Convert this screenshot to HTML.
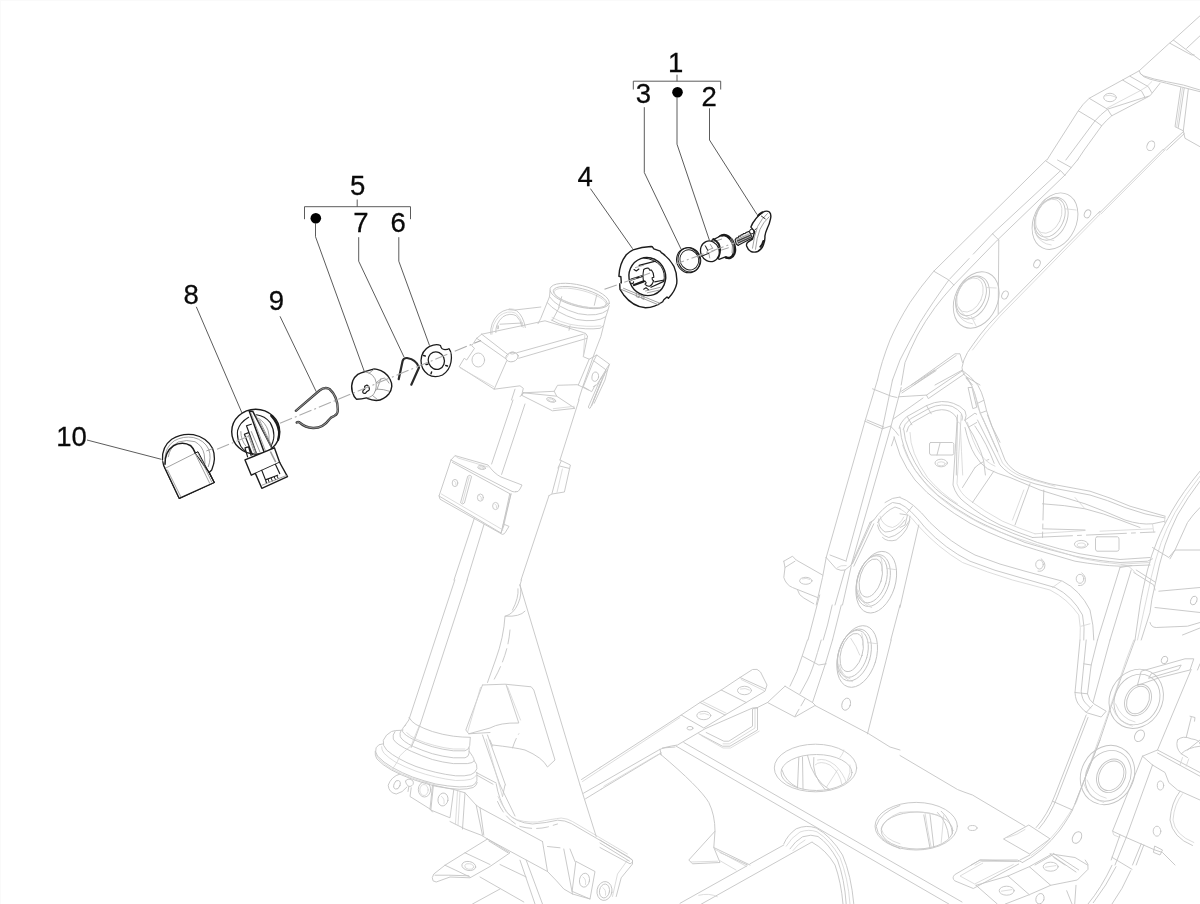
<!DOCTYPE html>
<html>
<head>
<meta charset="utf-8">
<title>Lock parts diagram</title>
<style>
html,body{margin:0;padding:0;background:#fff;}
body{width:1200px;height:904px;overflow:hidden;font-family:"Liberation Sans",sans-serif;}
svg{display:block;will-change:transform;}
.f{fill:none;stroke:#c4c4c4;stroke-width:0.9;stroke-linecap:round;stroke-linejoin:round;}
.f2{fill:none;stroke:#d4d4d4;stroke-width:0.8;stroke-linecap:round;stroke-linejoin:round;}
.d{fill:none;stroke:#1c1c1c;stroke-width:1.3;stroke-linecap:round;stroke-linejoin:round;}
.dw{fill:#fff;stroke:#1c1c1c;stroke-width:1.3;stroke-linecap:round;stroke-linejoin:round;}
.g{fill:none;stroke:#8a8a8a;stroke-width:0.8;stroke-linecap:round;stroke-linejoin:round;}
.l{fill:none;stroke:#4a4a4a;stroke-width:0.9;}
.ax{fill:none;stroke:#acacac;stroke-width:1.1;stroke-dasharray:13 3 2 3;}
text{font-family:"Liberation Sans",sans-serif;font-size:26px;fill:#0a0a0a;stroke:#0a0a0a;stroke-width:0.25;text-anchor:middle;}
</style>
</head>
<body>
<svg width="1200" height="904" viewBox="0 0 1200 904">
<rect x="0" y="0" width="1200" height="904" fill="#ffffff"/>

<path id="edge" d="M0,0.5 H1200 M0.5,0 V904" stroke="#fafafa" stroke-width="1" fill="none"/>
<!-- ================= FRAME (light grey) ================= -->
<g id="frame" class="f">
<!-- frame_01_head.py -->
<ellipse cx="579.7" cy="296.0" rx="30.5" ry="10.7" transform="rotate(14 579.7 296.0)"/>
<ellipse cx="580.2" cy="297.2" rx="27.7" ry="8.7" transform="rotate(14 580.2 297.2)"/>
<ellipse class="f2" cx="580.2" cy="298.0" rx="26.7" ry="7.7" transform="rotate(14 580.2 298.0)"/>
<path d="M561.7,296.7 L558.7,307.5 M596.7,295.0 L594.3,305.3"/>
<path d="M549.5,296.7 Q556.7,307.5 578.3,313.7 Q598.3,317.5 607.8,310.0"/>
<path d="M547.2,302.5 Q555.0,312.5 576.7,319.5 Q596.7,323.0 605.8,316.7"/>
<path d="M551.2,320.0 Q558.3,324.2 569.2,326.7 Q586.7,330.0 600.0,328.3 L603.3,325.8"/>
<path class="f2" d="M552.0,317.5 Q560.0,322.0 570.0,324.3 Q586.7,327.5 600.8,325.8"/>
<path d="M550.0,290.8 L549.5,296.7 L547.2,302.5 L540.8,318.3 L538.0,323.7"/>
<path d="M609.2,305.8 L607.8,310.8 L605.8,316.7 L603.3,326.7 L600.8,336.7 L595.0,351.7 L583.3,385.0 L578.5,400.0"/>
<path d="M559.2,307.5 L552.5,320.0 M570.0,325.8 L569.0,330.3"/>
<path d="M490.8,334.2 Q489.7,323.3 498.3,314.2 Q507.5,306.7 516.7,310.8 Q523.3,315.8 525.3,327.5"/>
<path class="f2" d="M492.0,334.2 Q491.7,324.2 499.7,315.8 Q507.5,310.0 515.3,313.0 Q521.3,317.5 523.3,327.5"/>
<path d="M495.8,332.5 Q495.3,323.3 503.0,316.7 Q510.0,312.5 516.3,315.8 Q520.8,320.0 522.0,326.7"/>
<path d="M515.0,310.0 L540.8,307.0 M500.0,324.2 L522.5,323.0 M497.2,325.8 L497.2,328.7 L498.5,328.7 L498.5,325.8"/>
<path class="f2" d="M509.2,308.7 L514.2,309.3 M508.7,309.7 L513.3,310.3"/>
<path d="M481.7,334.2 L545.0,320.8 L583.3,332.5 Q587.0,333.3 587.5,336.3"/>
<path d="M516.7,352.8 L583.3,334.2 M518.7,358.3 L587.0,338.3"/>
<path d="M481.7,334.2 L507.5,354.2 M476.7,338.3 L505.8,358.7 M481.7,334.2 L476.7,338.3"/>
<ellipse cx="512.0" cy="357.0" rx="6.3" ry="4.7" transform="rotate(-15 512.0 357.0)"/>
<ellipse cx="512.5" cy="353.0" rx="2.5" ry="1.0"/>
<path class="f2" d="M509.2,353.3 Q508.3,355.3 506.7,357.5 M515.3,352.8 Q517.0,354.2 518.3,356.7"/>
<path d="M476.7,338.3 L471.7,345.8 L474.5,348.3 L466.7,360.0 L464.2,358.3 L459.2,366.7 L494.2,389.2 L506.7,360.8"/>
<path class="f2" d="M460.3,368.0 L493.7,386.7"/>
<ellipse cx="478.3" cy="360.0" rx="6.3" ry="7.0"/>
<path d="M494.2,389.2 L520.0,385.8 L523.3,388.3 L521.7,395.3 L552.5,410.8 L575.0,408.3 L556.7,396.2"/>
<path d="M523.3,392.8 L554.2,391.3 L557.5,385.3 L577.5,384.7 L588.3,390.0"/>
<path d="M523.3,392.8 L520.0,396.7 M521.7,395.3 L523.3,392.8 M554.2,391.3 L556.7,396.2 L523.3,392.8"/>
<path class="f2" d="M553.3,408.7 L574.2,406.3"/>
<ellipse cx="551.2" cy="400.0" rx="4.7" ry="2.0" transform="rotate(15 551.2 400.0)"/>
<ellipse class="f2" cx="551.2" cy="400.3" rx="3.0" ry="1.2" transform="rotate(15 551.2 400.3)"/>
<path d="M587.5,336.3 L583.3,356.7 L589.2,359.2 L578.3,385.0"/>
<path class="f2" d="M585.0,333.0 L583.3,356.7"/>
<path d="M589.2,359.2 L596.7,355.0 L609.5,364.2 L607.5,370.0 L600.8,378.3"/>
<path d="M596.7,355.0 L593.7,360.8 L605.8,369.7 L609.5,364.2"/>
<path d="M593.7,360.8 L583.3,386.7 L591.7,391.7 L595.3,385.0"/>
<ellipse cx="595.3" cy="376.7" rx="3.3" ry="4.7" transform="rotate(10 595.3 376.7)"/>
<path d="M605.8,369.7 L604.2,375.3 L590.3,408.0 Q589.2,409.2 588.3,407.0 L600.0,380.0 L604.2,375.3"/>
<path d="M602.5,378.3 L591.7,405.8 M600.8,382.0 L593.3,400.8 M605.8,370.0 L596.7,385.0 L593.3,386.7"/>
<path d="M607.5,370.0 L605.0,380.0 L594.2,403.3"/>
<path d="M515.0,389.2 L511.5,400.0"/>
<!-- frame_02_column.py -->
<path d="M513.0,400.0 L491.6,464.0 M474.4,518.0 L454.0,580.0"/>
<path d="M525.0,404.0 L501.6,474.4 M484.0,524.4 L467.0,580.0"/>
<path d="M579.0,400.0 L560.0,460.0 M549.0,495.6 L521.0,580.0"/>
<path d="M451.0,460.0 L455.0,455.6 L488.0,465.0 Q491.0,469.0 494.0,472.0 Q498.0,475.6 501.0,477.0 L522.0,485.0 L520.0,489.0 Q518.4,492.4 515.6,492.0"/>
<path d="M451.0,460.0 L512.0,491.4 Q514.4,492.4 516.0,491.6 M452.4,462.4 L510.4,494.0"/>
<path class="f2" d="M455.0,455.6 L458.0,458.0 L488.0,467.0"/>
<ellipse cx="481.6" cy="467.6" rx="4.0" ry="1.8" transform="rotate(10 481.6 467.6)"/>
<ellipse class="f2" cx="481.6" cy="468.0" rx="2.4" ry="1.0" transform="rotate(10 481.6 468.0)"/>
<path d="M451.0,460.0 L439.0,496.0 L501.0,533.0 L511.0,494.0"/>
<path d="M439.0,496.0 L440.0,499.2 L502.4,534.4 Q504.4,534.4 505.6,532.0 L509.0,526.4 L504.4,524.4 L501.0,533.0"/>
<path class="f2" d="M441.4,494.0 L503.0,530.0"/>
<path d="M511.0,494.0 L504.0,524.4 M509.6,494.4 L502.4,528.0"/>
<ellipse cx="455.0" cy="483.0" rx="2.8" ry="3.6"/>
<ellipse cx="480.4" cy="497.6" rx="3.0" ry="3.6"/>
<ellipse cx="495.6" cy="506.0" rx="3.0" ry="3.6"/>
<path class="f2" d="M454.4,481.0 Q456.4,482.0 456.0,485.0 M479.8,495.6 Q482.0,496.8 481.4,499.6 M495.0,504.0 Q497.2,505.2 496.6,508.0"/>
<path d="M468.0,476.0 Q470.0,474.2 471.6,476.4 L464.4,503.0 Q462.8,505.2 460.8,503.0 Z"/>
<path class="f2" d="M469.2,477.0 L462.4,503.0"/>
<path d="M560.0,460.0 L570.4,465.0 L564.4,492.0 L552.0,494.0 L549.0,495.6"/>
<path d="M559.0,467.0 L552.0,493.4 M559.6,466.0 L569.2,468.4 M561.2,461.0 L558.0,468.0"/>
<path class="f2" d="M562.4,469.0 L557.0,492.4"/>
<!-- frame_03_colbot.py -->
<path d="M454.8,580.0 L408.8,720.0 L404.5,726.2"/>
<path d="M467.2,580.0 L420.0,725.0 L415.0,738.8 L411.2,747.5"/>
<path d="M521.5,580.0 L520.0,585.0"/>
<path d="M520.0,585.0 L580.0,785.0"/>
<path d="M520.0,585.0 Q522.5,593.8 518.0,603.8 Q513.8,613.8 505.5,616.2 M525.0,611.2 Q520.0,617.0 505.5,616.2 M518.0,588.8 Q519.0,597.5 512.5,610.0"/>
<path d="M505.0,616.2 Q503.8,637.5 495.5,660.0 L487.5,682.5"/>
<path style="stroke-dasharray:14 5" d="M510.0,630.0 Q508.0,655.0 493.8,680.0"/>
<path d="M482.5,685.0 L505.0,684.2 L531.2,686.8 L533.8,690.0 L555.0,760.0 L547.5,767.0 Q542.5,757.5 525.0,750.0 Q515.0,747.5 492.5,745.0"/>
<path d="M482.5,685.0 L465.8,730.0 L468.8,733.8 L490.0,728.0 Q500.0,722.5 518.8,723.0 L506.2,685.0"/>
<path class="f2" d="M480.5,687.5 L467.5,732.5 M508.0,688.0 L520.5,720.0 M506.2,685.0 L508.0,688.0"/>
<path d="M468.8,733.8 L490.0,732.5 M482.5,735.0 L500.0,785.0 M487.5,735.0 L505.5,785.0 M490.0,740.0 L492.5,746.2"/>
<path style="stroke-dasharray:10 5" d="M512.5,748.0 Q515.0,740.0 518.8,733.8"/>
<path d="M476.2,772.5 L496.2,783.0 M477.5,775.5 L493.0,784.2"/>
<!-- frame_04_botleft.py -->
<path d="M400.0,774.0 Q391.2,776.5 388.2,785.2 Q388.8,792.8 396.2,794.0 Q402.5,792.8 407.0,787.0"/>
<ellipse cx="397.0" cy="784.8" rx="3.0" ry="4.5" transform="rotate(20 397.0 784.8)"/>
<path d="M405.5,781.0 Q408.8,777.0 413.0,781.0 Q414.5,785.2 410.0,786.5 Q406.2,786.0 405.5,781.0 M408.8,786.5 L408.0,791.5"/>
<path d="M411.2,787.8 L410.0,796.5 L430.0,809.0 L432.5,812.0 M432.5,785.2 L430.0,809.0"/>
<ellipse cx="424.5" cy="789.5" rx="6.2" ry="7.5"/>
<ellipse class="f2" cx="424.0" cy="790.0" rx="4.2" ry="5.5"/>
<path d="M433.8,785.2 L453.8,789.5 L450.0,817.8 L431.2,810.2 Z"/>
<ellipse cx="443.0" cy="799.5" rx="5.0" ry="6.5" transform="rotate(10 443.0 799.5)"/>
<path class="f2" d="M441.5,796.5 Q445.0,798.5 444.0,803.5"/>
<path d="M453.8,789.5 L465.0,792.8 L476.2,805.2 L480.0,807.8 L542.5,841.5 M547.5,846.5 L560.0,847.8"/>
<path d="M450.0,821.5 L465.0,829.0 L481.2,835.2 L487.5,839.0 L547.5,871.5 Q557.5,881.5 563.8,889.0 L572.5,894.0 L590.0,899.0"/>
<path d="M476.2,805.2 L482.5,835.2 M465.0,792.8 L462.5,829.0 M542.5,841.5 L547.5,871.5 M563.8,849.0 L572.5,894.0 M570.0,849.0 L575.0,861.5 M480.0,807.8 L483.8,835.2"/>
<path class="f2" d="M457.5,791.0 L455.5,824.0 M460.0,792.0 L458.0,825.2"/>
<path d="M496.2,784.0 Q498.8,799.0 506.2,811.5 Q515.0,822.8 532.5,824.0 Q547.5,822.8 557.5,820.2 Q565.0,820.2 571.2,823.5 L630.0,857.8 Q633.8,860.2 632.5,864.0 L621.2,877.8 L616.2,896.5"/>
<path class="f2" d="M498.0,796.5 Q503.8,810.2 512.5,817.8 Q522.5,822.8 537.5,822.0 Q552.5,819.0 561.2,818.0 Q567.5,818.5 572.5,821.5 L627.5,854.0"/>
<path style="stroke-dasharray:12 5" d="M497.5,801.5 Q505.0,819.0 520.0,826.5 Q535.0,830.2 547.5,827.0 L557.5,824.0"/>
<path class="f2" d="M627.5,860.2 L617.5,874.0 L612.5,896.5"/>
<path d="M576.2,861.5 L595.0,871.5 L590.0,899.0 L572.5,891.5 Z"/>
<ellipse cx="584.5" cy="880.2" rx="5.0" ry="7.0" transform="rotate(10 584.5 880.2)"/>
<ellipse cx="604.5" cy="891.0" rx="5.0" ry="7.0" transform="rotate(10 604.5 891.0)"/>
<ellipse cx="604.5" cy="891.0" rx="7.5" ry="9.5" transform="rotate(10 604.5 891.0)"/>
<path class="f2" d="M583.0,877.0 Q586.5,879.0 585.5,884.5 M603.0,887.8 Q606.5,889.8 605.5,895.2"/>
<path d="M487.5,839.0 L465.0,852.8 L445.0,865.2 L433.8,874.0 Q431.2,877.8 433.0,880.8 L436.2,882.0 L450.0,877.0 L470.0,877.8 L490.0,866.5 L510.0,852.8 L487.5,839.0"/>
<path d="M465.0,852.8 L490.0,864.5 M445.0,865.2 L470.0,877.0 M488.8,841.0 L508.0,852.8 M435.0,875.2 L448.8,875.2 L468.8,875.8"/>
<ellipse cx="468.8" cy="866.0" rx="7.0" ry="4.5" transform="rotate(10 468.8 866.0)"/>
<ellipse class="f2" cx="469.2" cy="866.5" rx="4.5" ry="2.8" transform="rotate(10 469.2 866.5)"/>
<path d="M472.5,904.0 L500.0,889.0 M480.0,877.0 L523.8,902.0 M500.0,864.5 L526.2,877.0"/>
<path d="M520.0,860.2 L535.0,904.0 M526.2,860.2 L542.5,904.0"/>
<path d="M500.0,785.0 L515.0,816.0 M505.0,785.0 L502.5,796.5"/>
<path class="f2" d="M486.2,739.0 L502.5,796.5"/>
<path d="M580.0,785.0 L596.2,836.5"/>
<!-- frame_05_floor1.py -->
<path d="M600.0,767.5 L681.2,715.0 L700.0,702.5 L721.2,690.0 L740.0,677.5 L752.5,669.5 Q757.5,668.0 760.5,672.0 L767.0,685.0 L765.0,691.2 L746.2,702.5 L725.0,715.0 L703.8,728.0 L681.2,715.0"/>
<path d="M700.0,702.5 L725.0,715.0 M721.2,690.0 L746.2,702.5 M740.0,677.5 L765.0,688.8"/>
<path class="f2" d="M702.0,701.2 L726.2,713.2 M741.2,679.5 L763.8,690.5 M600.0,770.0 L680.0,717.5"/>
<ellipse cx="703.8" cy="715.5" rx="7.0" ry="4.2"/>
<ellipse cx="744.5" cy="690.5" rx="7.0" ry="4.2"/>
<ellipse cx="690.0" cy="728.2" rx="3.0" ry="1.8"/>
<path class="f2" d="M700.0,714.0 Q705.0,712.5 709.0,715.0 M740.5,689.0 Q745.5,687.5 749.5,690.0"/>
<path d="M600.0,783.8 L658.8,750.0 Q663.8,747.0 677.5,745.0 L705.0,728.8 L752.5,708.0 L757.5,707.5"/>
<path d="M601.2,789.2 L661.2,753.0 M660.0,749.2 L661.2,755.0 M662.5,748.0 L675.0,747.0"/>
<path class="f2" d="M603.8,786.2 L658.0,754.5"/>
<path d="M698.8,733.8 L722.5,746.2 L730.0,746.2 L757.5,730.0 L757.5,708.0 L752.5,708.8 L752.5,726.2 L728.8,741.2 L723.8,741.2 L706.2,732.5"/>
<path class="f2" d="M701.2,735.5 L723.0,748.0 L730.5,748.0 L759.2,731.2 M755.0,708.2 L755.0,728.0 L729.5,743.8 L723.0,743.8"/>
<path d="M676.2,746.2 L948.8,904.0 M683.8,742.5 L962.0,902.0"/>
<path d="M785.0,686.2 L767.5,702.5 L795.0,717.0 L815.0,705.5 L868.8,733.8 L890.0,747.0 L900.0,750.0"/>
<path d="M785.0,686.2 L812.5,702.5 L815.5,705.5"/>
<path style="stroke-dasharray:8 4" d="M795.0,716.2 L805.5,698.0"/>
<path d="M757.5,707.5 L767.5,702.5"/>
<ellipse cx="815.5" cy="768.0" rx="41.2" ry="23.8"/>
<ellipse cx="816.5" cy="772.5" rx="35.5" ry="18.0"/>
<path d="M782.0,770.0 Q785.0,781.2 797.5,787.5 M798.8,757.5 L797.5,788.0 M802.5,757.0 L803.0,789.0 M807.5,755.5 Q812.5,780.0 830.0,790.0 M813.8,757.5 Q811.2,775.0 825.0,789.5"/>
<path class="f2" d="M817.5,760.0 Q825.0,757.5 835.0,765.0 Q843.8,773.8 846.2,782.5 M815.0,765.0 Q820.0,760.0 830.0,765.0 Q840.0,772.5 842.0,785.0 M837.5,770.0 L826.2,787.5 M840.0,757.5 Q843.8,752.5 843.8,750.0 M850.0,765.0 Q851.2,772.5 847.5,780.0"/>
<path d="M900.0,805.5 Q880.0,812.5 876.2,826.2 Q877.5,840.0 900.0,848.8"/>
<path class="f2" d="M900.0,812.5 Q883.8,818.8 881.2,828.8 Q883.8,838.8 900.0,843.8"/>
<path d="M790.0,686.2 Q797.5,672.5 802.5,655.0 L807.5,640.0 M821.2,640.0 L817.5,652.5 Q812.5,670.0 807.5,680.0 L800.0,693.8 M832.5,640.0 L825.0,665.0 L812.5,702.5"/>
<path d="M802.5,656.2 L818.8,665.0 L826.2,663.8"/>
<ellipse cx="846.2" cy="704.2" rx="4.2" ry="6.2" transform="rotate(18 846.2 704.2)"/>
<path d="M891.2,640.0 L867.5,733.8"/>
<path d="M660.0,753.8 Q700.0,787.5 708.8,802.5 Q715.0,815.0 715.0,831.2 L713.8,847.5 L720.0,862.5 L692.5,863.8 L688.8,860.0 L715.0,831.2"/>
<path class="f2" d="M691.2,862.0 L717.5,861.2"/>
<path d="M720.0,852.5 L747.5,865.0 M750.0,863.8 L783.8,845.0 M713.8,847.5 L750.0,865.0"/>
<path d="M600.0,840.0 L632.5,860.0 Q633.8,862.5 630.0,863.8 L600.0,847.5 M600.0,843.0 L629.5,861.2"/>
<path d="M581.5,779.5 L600.0,767.5 M583.5,793.2 L600.0,783.8 M585.5,798.8 L601.2,789.2"/>
<path class="f2" d="M582.5,781.5 L600.0,770.0"/>
<!-- frame_06_floor2.py -->
<path d="M900.0,755.5 L957.5,789.5 Q965.0,792.5 972.5,795.0 L1025.0,826.2"/>
<ellipse cx="916.2" cy="826.2" rx="41.2" ry="23.8"/>
<ellipse cx="917.0" cy="830.5" rx="35.8" ry="18.5"/>
<path d="M923.8,815.0 L930.0,848.0 M930.0,814.5 L933.8,847.0 M941.2,811.2 Q951.2,820.0 952.5,833.8 M937.5,812.5 Q947.5,822.5 948.8,837.5"/>
<path class="f2" d="M925.0,813.0 Q927.5,830.0 931.2,847.5 M943.8,815.0 L941.2,842.5 M900.0,812.5 Q920.0,810.0 937.5,815.0"/>
<ellipse cx="972.5" cy="828.0" rx="4.5" ry="2.5"/>
<path d="M1003.8,838.8 L1028.8,825.0 L1050.0,838.8 L1030.0,853.8 Z"/>
<path class="f2" d="M1007.5,837.5 Q1017.5,835.0 1025.0,829.5"/>
<path d="M971.2,865.0 L980.0,860.0 L1017.5,860.0 L1022.5,862.5 M1020.0,860.0 L1030.0,855.0 M1050.0,853.8 L1075.0,857.5 L1087.5,865.0 M1035.0,865.0 L1052.5,855.0 M1053.8,857.5 L1065.0,865.0"/>
<path class="f2" d="M975.0,865.0 L981.2,861.5 L1016.2,861.5"/>
<path d="M1036.2,827.5 Q1047.5,815.0 1055.0,795.0 L1086.2,715.0"/>
<path d="M1038.8,828.8 Q1050.0,816.2 1057.5,796.2 L1088.0,717.5"/>
<path d="M1022.5,862.5 Q1042.5,852.5 1060.0,830.0 Q1068.8,817.5 1072.5,810.0 L1100.0,740.0 L1117.5,687.5 L1135.0,640.0"/>
<path class="f2" d="M1031.2,855.5 Q1050.0,842.5 1065.0,820.0 Q1072.5,808.8 1076.2,802.5 L1107.5,715.0 L1126.2,660.0 L1133.8,640.0"/>
<path d="M1052.5,801.2 L1072.5,810.0 M1075.0,803.8 L1100.0,740.0"/>
<path d="M1080.0,640.0 L1075.0,692.5 Q1075.5,701.2 1079.5,705.5 Q1083.8,711.2 1087.5,713.0 L1101.2,717.0 L1106.2,711.2 L1093.8,703.8 Q1088.8,700.0 1087.5,693.8 L1091.2,665.0 L1097.5,640.0"/>
<path d="M1086.2,640.0 L1081.2,691.2 Q1082.0,699.5 1085.5,703.0 L1090.5,708.0 M1110.0,640.0 L1093.0,702.5 M1075.0,692.5 L1087.5,693.8 M1083.8,663.8 L1091.2,665.0 M1086.2,712.5 L1092.5,705.5"/>
<ellipse cx="1136.2" cy="698.8" rx="26.2" ry="30.5" transform="rotate(28 1136.2 698.8)"/>
<ellipse cx="1137.0" cy="699.5" rx="22.0" ry="26.2" transform="rotate(28 1137.0 699.5)"/>
<ellipse cx="1138.0" cy="700.0" rx="12.5" ry="16.5" transform="rotate(28 1138.0 700.0)"/>
<ellipse cx="1138.0" cy="700.0" rx="10.5" ry="14.5" transform="rotate(28 1138.0 700.0)"/>
<path class="f2" d="M1112.5,707.5 Q1117.5,722.5 1132.5,726.2 M1115.5,703.8 Q1121.2,718.8 1135.0,722.0"/>
<ellipse cx="1107.5" cy="775.0" rx="26.2" ry="30.5" transform="rotate(28 1107.5 775.0)"/>
<ellipse cx="1108.2" cy="775.8" rx="22.0" ry="26.2" transform="rotate(28 1108.2 775.8)"/>
<ellipse cx="1111.2" cy="775.8" rx="13.8" ry="17.5" transform="rotate(28 1111.2 775.8)"/>
<ellipse cx="1111.2" cy="775.8" rx="11.8" ry="15.5" transform="rotate(28 1111.2 775.8)"/>
<path class="f2" d="M1083.8,783.8 Q1088.8,798.8 1103.8,802.5 M1087.0,780.0 Q1092.5,795.0 1106.2,798.2"/>
<ellipse cx="1139.5" cy="735.8" rx="4.5" ry="6.2" transform="rotate(30 1139.5 735.8)"/>
<ellipse cx="1077.0" cy="837.5" rx="4.2" ry="6.2" transform="rotate(30 1077.0 837.5)"/>
<ellipse cx="1160.5" cy="785.5" rx="3.2" ry="4.5"/>
<ellipse cx="1157.0" cy="831.2" rx="3.8" ry="5.0"/>
<path d="M1137.5,685.0 L1141.2,671.2 L1185.0,658.8 L1193.8,658.8 L1190.0,670.0 L1160.0,677.5 Z"/>
<path d="M1148.8,678.0 L1151.2,673.8 L1181.2,665.0 L1178.8,669.2 Z"/>
<ellipse cx="1164.5" cy="660.0" rx="3.0" ry="3.8" transform="rotate(20 1164.5 660.0)"/>
<path d="M1191.2,669.5 L1157.5,750.0 M1200.0,663.8 L1197.5,670.0"/>
<path d="M1142.5,756.2 L1157.5,750.0 L1200.0,772.5 M1157.5,753.0 L1200.0,776.2"/>
<path d="M1152.5,765.0 L1165.0,772.5 L1168.8,782.5 L1177.5,790.0 L1200.0,800.0 M1142.5,756.2 L1152.5,765.0"/>
<path d="M1152.5,765.0 L1126.2,837.5 L1112.5,831.2 L1142.5,756.2"/>
<path d="M1126.2,837.5 L1155.0,850.0 L1162.5,852.5 L1175.0,865.0 M1155.0,846.2 L1162.5,850.0 L1160.0,855.0 L1153.8,852.5 Z"/>
<path d="M1180.0,791.2 Q1171.2,802.5 1170.0,820.0 Q1172.5,837.5 1192.5,845.5"/>
<path class="f2" d="M1182.5,793.8 Q1174.2,803.8 1173.0,820.0 Q1175.0,835.0 1193.8,842.5"/>
<path d="M1126.2,837.5 L1115.0,865.0 M1120.0,835.0 L1111.2,860.0 M1143.8,845.0 L1136.2,865.0 M1141.2,843.8 L1132.5,865.0"/>
<path class="f2" d="M1112.5,831.2 L1113.8,835.0 L1120.0,837.5"/>
<path d="M1191.2,717.5 L1186.2,737.5 M1190.0,716.2 L1195.0,717.5 L1194.5,721.2"/>
<path d="M1177.5,740.0 Q1182.5,735.0 1191.2,738.8 Q1200.0,740.0 1200.0,743.8 M1177.5,740.0 Q1175.0,747.5 1181.2,753.8 L1187.5,757.5 M1181.2,753.8 Q1187.5,747.5 1200.0,746.2 M1187.5,750.0 L1200.0,740.0"/>
<path class="f2" d="M1182.5,757.5 L1180.0,765.0 M1188.8,758.8 L1186.2,766.2"/>
<!-- frame_07_saddle.py -->
<path d="M900.0,497.5 Q912.5,501.2 930.0,522.5 Q950.0,542.5 975.0,555.0 Q1000.0,565.0 1025.0,571.2 L1062.5,581.2 Q1080.0,590.0 1090.0,610.0 Q1093.8,625.0 1093.8,640.0"/>
<path d="M900.0,503.8 Q910.0,508.0 925.0,527.5 Q945.0,548.8 970.0,561.2 Q995.0,571.2 1020.0,577.5 L1055.0,587.5 Q1072.5,596.2 1082.5,615.0 Q1085.0,627.5 1083.8,640.0"/>
<path class="f2" d="M900.0,508.8 Q908.8,513.8 917.5,525.0 Q937.5,547.5 962.5,562.5 Q987.5,572.5 1012.5,580.0 L1050.0,590.0 Q1067.5,598.8 1078.8,615.0 Q1081.2,627.5 1080.0,640.0"/>
<path class="f2" d="M1052.5,587.5 L1061.2,581.2 M1081.2,626.2 L1090.0,623.8"/>
<path d="M900.0,427.5 Q901.2,447.5 915.0,470.0 Q925.0,483.8 937.5,495.0 Q955.0,508.8 975.0,520.0 Q1000.0,532.5 1025.0,542.5 Q1050.0,550.0 1075.0,556.2 Q1100.0,561.2 1120.0,562.5 L1147.5,561.2 L1152.5,558.8"/>
<path d="M903.8,430.0 Q905.0,448.8 922.5,475.0 Q935.0,490.0 950.0,500.0 Q967.5,512.5 987.5,522.5 Q1012.5,533.8 1037.5,542.5 Q1060.0,549.5 1080.0,553.8 Q1100.0,557.5 1120.0,559.5 L1150.0,557.5"/>
<path class="f2" d="M910.0,432.5 Q910.0,452.5 927.5,477.5 Q940.0,492.5 957.5,503.8"/>
<path d="M957.5,415.0 L953.0,485.0 Q956.2,496.2 965.0,502.5 Q980.0,515.0 1000.0,525.0 Q1017.5,532.5 1032.5,537.5"/>
<path class="f2" d="M961.2,415.0 L957.0,483.8 Q960.0,493.0 968.8,499.5 Q983.8,511.2 1002.5,521.2 Q1020.0,528.8 1035.0,533.8"/>
<path style="stroke-dasharray:40 5 4 5" d="M1032.5,537.5 L1155.0,532.0"/>
<path class="f2" d="M1035.0,533.8 L1085.0,530.5 M1100.0,531.2 L1152.5,528.8"/>
<path d="M977.5,420.0 L1000.0,465.0 Q1007.5,473.8 1020.0,478.8 Q1035.0,484.5 1050.0,487.5 L1090.0,495.0 Q1107.5,500.0 1125.0,507.5 Q1145.0,515.0 1165.0,518.0"/>
<path d="M987.5,415.0 L1005.0,460.0 Q1010.0,468.8 1020.0,473.8 Q1035.0,480.5 1050.0,483.8 L1090.0,491.2 Q1110.0,497.5 1130.0,506.2 L1165.0,516.2"/>
<path class="f2" d="M982.5,417.5 L1002.5,463.0 Q1010.0,472.0 1022.5,477.0 L1055.0,486.2"/>
<path d="M965.0,427.5 Q968.8,445.0 975.0,455.0 Q980.0,463.8 987.5,468.8 Q997.5,473.8 1010.0,477.5 Q1025.0,483.8 1040.0,490.0 L1085.0,503.8 Q1105.0,511.2 1125.0,520.0 Q1140.0,525.0 1152.5,523.8 L1165.0,521.2"/>
<path class="f2" d="M967.5,422.5 Q972.5,442.5 980.0,453.8 Q986.2,462.5 995.0,466.2"/>
<path class="f2" d="M1152.5,523.8 L1153.8,532.5 M1165.0,516.2 L1164.5,522.5"/>
<path d="M975.0,467.5 L962.5,487.5 M993.8,471.2 L972.5,502.5 M1030.0,483.8 L1015.0,525.0 M1042.5,503.8 Q1065.0,505.0 1085.0,508.8 Q1105.0,513.8 1120.0,520.0 L1140.0,527.5 M1042.5,528.8 L1085.0,530.0"/>
<path style="stroke-dasharray:30 4 4 4" d="M1043.8,490.0 L1042.5,537.5"/>
<path style="stroke-dasharray:10 4" d="M975.0,467.5 Q980.0,462.5 988.8,459.5"/>
<path class="f2" d="M1023.8,490.0 L1012.5,520.0 M1075.0,497.5 L1085.0,508.8"/>
<path d="M930.5,442.5 L952.5,442.5 Q953.8,443.0 953.8,444.5 L953.8,453.8 Q953.5,455.0 952.0,455.0 L931.0,455.0 Q929.5,454.5 929.5,453.0 L929.5,444.0 Q929.5,442.8 930.5,442.5 M940.0,443.2 L937.0,455.0"/>
<ellipse cx="941.2" cy="463.0" rx="6.2" ry="3.8"/>
<ellipse class="f2" cx="941.2" cy="463.8" rx="4.0" ry="2.0"/>
<ellipse cx="1081.2" cy="544.2" rx="6.8" ry="3.8"/>
<ellipse class="f2" cx="1081.2" cy="545.0" rx="4.2" ry="2.0"/>
<path d="M1097.0,536.8 L1117.5,536.8 Q1119.0,537.2 1119.0,539.0 L1119.0,549.5 Q1118.8,551.2 1117.0,551.2 L1097.0,551.2 Q1095.5,550.8 1095.5,549.0 L1095.5,538.5 Q1095.8,537.0 1097.0,536.8"/>
<ellipse cx="1039.5" cy="564.5" rx="3.8" ry="4.5"/>
<path d="M1041.2,558.8 Q1046.2,562.5 1044.5,568.0 Q1042.5,572.0 1038.0,571.2"/>
<ellipse cx="1080.0" cy="578.8" rx="3.8" ry="4.5"/>
<path d="M1081.8,573.0 Q1086.8,576.8 1085.0,582.2 Q1083.0,586.2 1078.5,585.5"/>
<path d="M1200.0,471.2 Q1182.5,492.5 1172.5,510.0 Q1162.5,527.5 1157.5,540.0 Q1151.2,555.0 1147.5,570.0 Q1142.5,590.0 1140.0,605.0 L1135.0,640.0"/>
<path d="M1200.0,481.2 Q1187.5,497.5 1177.5,515.0 Q1170.0,530.0 1165.0,545.0 Q1158.8,565.0 1155.0,585.0 Q1151.2,600.0 1150.0,612.5 L1141.2,640.0"/>
<path class="f2" d="M1200.0,476.2 Q1185.0,495.0 1175.0,512.5 Q1166.2,528.8 1161.2,542.5 Q1155.0,560.0 1151.2,577.5 L1137.5,640.0"/>
<path d="M1200.0,507.5 Q1192.5,515.0 1187.5,522.5 L1175.0,550.0 L1170.0,558.8"/>
<path d="M1152.5,547.5 L1168.8,557.5 L1175.0,550.0 L1200.0,550.0 M1158.8,591.2 L1200.0,587.5 M1155.0,607.5 L1200.0,612.5 M1150.0,622.5 Q1151.2,627.5 1156.2,627.5 L1187.5,626.2 L1200.0,622.5 M1182.5,635.0 L1200.0,628.0"/>
<ellipse cx="1193.8" cy="600.5" rx="3.0" ry="4.5" transform="rotate(20 1193.8 600.5)"/>
<path d="M1133.8,572.5 L1153.8,585.0 L1155.0,590.0 M1136.2,570.0 L1155.0,582.0"/>
<path d="M918.8,525.0 L905.0,585.0 L900.0,607.5 M900.0,513.8 L907.5,515.0 L905.0,525.0 L900.0,527.5"/>
<path d="M1120.0,567.5 L1097.5,640.0 M1131.2,570.0 L1110.0,640.0"/>
<path style="stroke-dasharray:12 4 3 4" d="M1120.0,567.5 L1135.0,565.0"/>
<path class="f2" d="M1121.2,564.5 Q1130.0,565.0 1135.0,572.5"/>
<path d="M894.0,436.8 L900.0,455.0 Q906.2,468.8 915.0,480.0 Q926.2,493.0 940.0,503.2 Q953.8,513.8 970.0,523.2 Q987.5,532.5 1006.8,540.0 Q1022.5,545.8 1036.8,550.0 L1075.0,561.2 Q1100.0,565.5 1120.0,566.2 L1150.0,565.0"/>
<path class="f2" d="M902.5,445.0 Q906.2,456.2 911.8,465.0 Q918.8,476.2 928.2,486.8 Q938.8,497.5 951.8,506.8 Q966.2,516.2 983.2,525.0 Q1000.0,532.5 1016.8,538.2 L1048.2,548.2 L1080.0,558.0 Q1100.0,562.5 1120.0,564.2 L1150.0,562.5"/>
<!-- frame_08_sideL.py -->
<path d="M877.5,380.0 L865.0,421.2 L826.2,557.5 M892.5,380.0 L882.5,428.0 L846.2,560.5 M901.2,387.5 L890.0,430.0 L851.2,565.0"/>
<path d="M865.0,421.2 L882.5,428.8 L890.0,426.2 M872.5,388.8 L891.2,396.2 L897.0,397.5 M867.0,420.0 L883.8,427.0"/>
<path d="M826.2,557.5 L836.2,568.8 Q841.2,571.2 845.0,570.0 L851.2,565.0 M830.0,555.0 L846.2,561.2 M826.2,557.5 L822.5,577.5 L816.2,605.0 M845.0,570.0 L835.0,605.0 M851.2,566.2 L842.5,605.0"/>
<path class="f2" d="M837.5,567.5 Q840.5,565.0 846.2,565.5"/>
<path d="M885.0,502.5 Q892.5,497.0 900.0,497.0 M873.8,520.0 Q882.5,507.5 892.5,502.5 L900.0,503.8 M877.5,522.5 Q885.0,511.2 895.0,507.0 L900.0,508.8 M912.5,506.2 L907.5,512.5"/>
<path d="M870.0,522.5 L873.8,520.0 M870.0,522.5 L851.2,565.0 M873.8,523.8 L853.8,566.2 M872.0,521.2 L852.5,563.8"/>
<path d="M878.8,518.8 Q877.5,527.5 885.0,532.0 Q896.2,532.5 905.0,520.0 M877.5,525.0 Q879.5,535.0 888.8,537.5 Q901.2,535.0 910.0,520.0 M910.0,516.2 Q910.0,530.0 896.2,540.0 Q887.5,542.5 882.5,537.5"/>
<path class="f2" d="M880.0,516.2 Q882.5,526.2 892.5,527.5 Q900.0,525.0 903.8,517.0"/>
<path d="M783.8,561.2 L792.5,556.2 L796.2,560.0 L822.5,575.0 M783.8,561.2 L785.0,567.5 L783.8,577.5 Q786.2,585.0 792.5,587.5 L817.5,597.5 M785.0,567.5 L795.0,561.2 M797.5,590.0 Q798.8,595.5 803.8,598.0 L813.8,603.8"/>
<ellipse cx="805.8" cy="580.8" rx="6.2" ry="3.5"/>
<path class="f2" d="M802.5,578.8 Q806.2,577.5 810.0,579.5"/>
<!-- frame_09_sideL2.py -->
<path d="M1046.2,160.0 L933.8,271.2 Q920.0,287.5 910.0,302.5 Q897.5,322.5 890.0,340.0 Q881.2,362.5 877.5,380.0"/>
<path d="M1060.0,171.2 L992.5,233.8 M948.8,280.0 Q932.5,302.5 920.0,322.5 Q907.5,345.0 900.0,360.0 L892.5,380.0"/>
<path style="stroke-dasharray:28 6" d="M992.5,233.8 L948.8,280.0"/>
<path d="M1065.0,175.0 L997.5,240.0 L953.8,285.0 Q942.5,297.5 935.0,307.5 Q925.0,321.2 917.5,335.0 Q910.0,350.0 905.0,362.5 L901.2,385.0"/>
<path d="M933.8,271.2 L948.8,280.0 L953.8,285.0 M992.5,233.8 L998.8,240.0 M1046.2,161.2 L1061.2,171.2 L1065.0,175.5"/>
<path d="M998.8,240.0 L998.2,313.8"/>
<path d="M1100.0,211.2 L998.8,313.8 Q987.5,325.0 980.0,335.0 Q972.5,345.0 967.5,352.5 Q963.0,360.0 962.0,367.5 Q962.5,375.0 967.5,377.5 L980.0,385.0"/>
<path class="f2" d="M1100.0,214.2 L1000.0,316.2 Q985.0,332.5 972.5,350.0"/>
<ellipse cx="1055.0" cy="221.2" rx="21.2" ry="29.5" transform="rotate(25 1055.0 221.2)"/>
<ellipse cx="1051.2" cy="218.8" rx="15.5" ry="22.5" transform="rotate(25 1051.2 218.8)"/>
<ellipse cx="1050.0" cy="217.5" rx="13.8" ry="20.5" transform="rotate(25 1050.0 217.5)"/>
<ellipse class="f2" cx="1048.8" cy="216.2" rx="12.0" ry="18.0" transform="rotate(25 1048.8 216.2)"/>
<path class="f2" d="M1035.0,232.5 Q1040.0,243.8 1051.2,245.0 M1037.5,228.8 Q1043.0,240.0 1053.8,240.5 M1065.0,208.8 L1076.2,210.0"/>
<ellipse cx="976.2" cy="300.0" rx="21.2" ry="29.5" transform="rotate(25 976.2 300.0)"/>
<ellipse cx="972.5" cy="297.5" rx="15.5" ry="22.5" transform="rotate(25 972.5 297.5)"/>
<ellipse cx="971.2" cy="296.2" rx="13.8" ry="20.5" transform="rotate(25 971.2 296.2)"/>
<ellipse class="f2" cx="970.0" cy="295.0" rx="12.0" ry="18.0" transform="rotate(25 970.0 295.0)"/>
<path class="f2" d="M956.2,311.2 Q961.2,322.5 972.5,323.8 M958.8,307.5 Q964.2,318.8 975.0,319.2 M986.2,287.5 L996.2,288.0 M971.2,316.2 L976.2,326.2"/>
<ellipse cx="1087.5" cy="213.8" rx="3.0" ry="4.2" transform="rotate(25 1087.5 213.8)"/>
<ellipse cx="1037.0" cy="263.8" rx="3.0" ry="4.2" transform="rotate(25 1037.0 263.8)"/>
<ellipse cx="1005.0" cy="295.0" rx="3.0" ry="4.2" transform="rotate(25 1005.0 295.0)"/>
<path d="M911.2,385.0 L955.0,353.8 L960.0,353.8 L962.5,362.5 M935.0,385.0 L962.5,370.0 M966.2,377.5 L972.5,385.0 M913.8,385.0 L956.2,355.5"/>
<path d="M1057.5,160.0 L1071.2,167.5 M1077.5,160.0 L1065.0,175.0"/>
<!-- frame_10_topR.py -->
<path d="M1200.0,15.8 L1173.3,40.0 L1168.3,44.2 L1139.2,70.8 L1122.5,80.0 L1089.2,98.3 Q1082.5,104.2 1078.3,110.8 L1053.3,150.0 L1047.0,160.0"/>
<path d="M1173.3,40.0 L1193.3,55.0 L1200.0,60.0 M1170.0,43.3 L1188.3,53.3 Q1191.7,55.8 1194.2,55.0 M1200.0,35.8 L1186.7,48.3"/>
<path d="M1139.2,70.8 Q1139.7,74.2 1143.3,75.8 Q1153.3,79.2 1166.7,81.7 L1183.3,85.0 L1200.0,90.0 M1140.0,73.3 Q1143.3,77.5 1150.0,79.2 L1166.7,83.3 L1200.0,91.7"/>
<path d="M1160.0,83.3 L1150.0,95.8 L1141.7,98.3 L1107.5,109.2 Q1100.0,115.0 1095.0,120.8 L1073.3,150.0 L1065.8,160.0"/>
<path class="f2" d="M1151.7,81.7 L1146.7,86.7 L1140.0,90.8 L1106.7,108.3"/>
<path d="M1148.3,96.7 L1111.7,115.8 Q1105.8,120.8 1101.7,125.8 L1084.2,150.0 L1077.5,160.0"/>
<path d="M1089.2,98.3 L1107.5,109.2 L1111.7,115.8 M1078.3,110.8 L1095.0,120.8 L1101.7,125.8 M1122.5,80.0 L1141.7,91.3 L1145.0,97.5 M1130.0,76.3 L1148.3,86.7 L1151.7,92.5"/>
<ellipse cx="1110.0" cy="97.5" rx="6.3" ry="4.2"/>
<path class="f2" d="M1105.0,95.8 Q1110.0,94.2 1115.0,96.7"/>
<path d="M1180.8,87.5 L1175.0,126.7 L1183.3,130.8 M1184.2,88.3 L1178.3,127.5 M1188.3,89.2 L1183.3,130.8 L1185.0,138.3 L1200.0,146.7"/>
<path class="f2" d="M1182.5,88.0 L1176.7,127.0"/>
<path d="M1163.3,150.0 L1183.3,131.7 M1166.7,150.0 L1184.2,133.7"/>
<ellipse cx="1150.8" cy="145.8" rx="3.7" ry="5.0" transform="rotate(25 1150.8 145.8)"/>
<!-- frame_11_edgeR.py -->
<path d="M1163.3,149.2 L1099.2,213.3"/>
<path class="f2" d="M1165.3,149.7 L1101.2,213.8"/>
<!-- frame_12_bottom.py -->
<path d="M746.7,866.0 L680.0,903.3 M812.0,842.0 L701.3,904.1"/>
<path class="f2" d="M720.0,860.7 L736.0,870.0 M714.7,849.2 L746.7,866.5"/>
<path class="f2" d="M698.7,895.3 Q709.3,892.7 717.3,896.7"/>
<!-- frame_13_bottomR.py -->
<path d="M1018.7,861.3 L980.0,860.0 L954.7,874.7 Q951.5,877.9 954.7,880.8 L973.3,888.5 L1018.7,864.0"/>
<path class="f2" d="M982.7,863.2 L960.0,876.0 L974.7,884.0 L1013.3,864.5"/>
<path d="M976.0,885.3 L1008.0,876.0 L1029.3,866.7 L1050.7,854.7 M1085.3,860.0 Q1089.3,864.0 1088.0,869.3 L1077.3,880.0 L1050.7,885.3 L1029.3,894.7 L1005.3,904.0 M976.0,885.3 L997.3,904.0"/>
<path d="M1008.0,876.0 L1029.3,894.7 M1029.3,866.7 L1050.7,885.3 M1050.7,854.7 L1076.0,872.0 M1053.3,853.3 L1078.7,869.9"/>
<ellipse cx="1050.7" cy="866.7" rx="7.5" ry="4.5"/>
<ellipse cx="1006.7" cy="890.7" rx="7.5" ry="4.5"/>
<ellipse cx="1040.0" cy="898.7" rx="4.0" ry="5.3" transform="rotate(20 1040.0 898.7)"/>
<path class="f2" d="M1045.3,867.2 L1056.0,865.6 M1001.3,891.2 L1012.0,889.6"/>
<path d="M1066.7,890.7 L1072.0,904.0 M1076.0,885.3 L1074.7,904.0"/>
<path d="M1112.0,865.3 Q1101.3,888.0 1088.0,904.0 M1130.7,870.7 Q1122.7,889.3 1112.0,904.0 M1112.0,857.3 L1132.0,869.3 M1116.0,866.7 Q1106.7,885.3 1093.3,902.7"/>
<!-- frame_14_riserL.py -->
<path d="M819.7,595.0 L808.0,640.0 M832.2,605.0 L827.5,625.0 L823.2,640.0 M841.3,605.0 L832.5,640.0 M900.0,605.0 L890.8,640.0"/>
<ellipse cx="876.3" cy="582.2" rx="19.0" ry="31.7" transform="rotate(17 876.3 582.2)"/>
<ellipse cx="873.3" cy="580.5" rx="16.0" ry="26.7" transform="rotate(17 873.3 580.5)"/>
<ellipse cx="872.0" cy="579.3" rx="14.3" ry="24.2" transform="rotate(17 872.0 579.3)"/>
<ellipse cx="870.8" cy="578.0" rx="10.7" ry="19.7" transform="rotate(17 870.8 578.0)"/>
<path class="f2" d="M859.2,595.0 Q863.3,605.8 871.7,607.5 M858.0,590.0 Q861.3,602.0 869.2,604.7 M886.7,568.3 L895.8,569.7 M880.8,556.7 Q883.3,563.3 881.7,570.8"/>
<ellipse cx="857.2" cy="656.5" rx="19.0" ry="31.7" transform="rotate(17 857.2 656.5)"/>
<ellipse cx="854.3" cy="655.0" rx="16.0" ry="26.7" transform="rotate(17 854.3 655.0)"/>
<ellipse cx="853.0" cy="653.8" rx="14.3" ry="24.2" transform="rotate(17 853.0 653.8)"/>
<ellipse cx="851.7" cy="652.5" rx="10.7" ry="19.7" transform="rotate(17 851.7 652.5)"/>
<path class="f2" d="M840.0,669.2 Q844.2,680.0 852.5,681.7 M838.8,664.2 Q842.2,676.3 850.0,678.8 M867.5,642.5 L876.7,643.7 M850.8,638.3 Q856.7,646.7 859.7,655.0 M861.7,633.3 Q864.2,640.0 862.5,645.0"/>
<!-- frame_15_junction.py -->
<path d="M900.8,391.6 L934.7,370.0 M902.0,392.9 L936.1,370.6"/>
<path d="M898.5,396.8 L926.5,395.1 L962.7,370.6 M926.5,395.1 L928.3,398.6 L965.0,373.5 M893.3,419.0 L923.0,398.0"/>
<path d="M962.7,370.6 Q970.3,375.8 977.8,385.2 Q981.9,392.2 983.7,399.2 L986.6,410.8 L991.8,426.0 L1000.0,442.3"/>
<path d="M968.5,387.5 L972.0,387.5 L976.7,407.3 L973.2,408.5 Z"/>
<path d="M966.2,378.2 Q970.3,382.8 972.0,386.3 Q974.9,393.3 976.7,400.3 L980.2,413.2 L988.3,430.7 L997.7,451.7"/>
<path d="M976.7,403.8 L983.7,400.3 M980.2,413.2 L986.6,410.8 M966.8,377.0 L970.8,384.0"/>
<path class="f2" d="M967.9,379.3 Q972.6,386.3 974.9,394.5 L978.4,408.5 L986.0,426.0 L995.3,447.0"/>
<path style="stroke-dasharray:16 4 3 4" d="M890.3,426.0 L895.0,430.7 L898.5,435.3"/>
<path d="M894.4,437.1 L891.5,445.8"/>
<path d="M899.1,428.3 Q899.7,423.1 906.7,416.7 L926.5,405.6 Q934.7,401.7 941.7,401.5 Q948.7,401.5 953.3,403.3 Q960.3,405.6 965.0,410.8 Q967.3,415.5 965.0,420.2"/>
<path d="M903.2,429.5 Q903.8,424.3 910.2,419.0 L928.8,408.5 Q935.8,405.2 941.7,405.0 Q947.5,405.0 952.2,406.4 Q958.0,409.1 961.3,413.4 Q963.3,417.3 962.1,420.2"/>
<path d="M906.7,431.8 Q907.3,426.6 912.5,422.5 L930.0,412.6 Q936.4,409.9 941.7,409.7 Q946.3,409.7 949.8,411.4 Q954.5,413.8 956.6,417.8 L957.4,421.3 L956.8,451.7 L956.3,475.0"/>
<path d="M907.3,416.7 L911.9,424.8 M926.5,405.6 L931.2,413.8"/>
<path class="f2" d="M957.4,421.3 L960.3,423.7 L961.5,451.7 L962.7,475.0"/>
<path d="M965.0,420.2 L974.9,413.2 L976.7,414.3 M965.0,420.2 L968.5,427.2 L976.7,422.5"/>
<path d="M968.5,427.2 Q973.8,435.3 976.7,442.3 Q981.3,451.7 983.7,461.0 L985.4,475.0 M974.9,426.0 Q981.3,435.3 986.0,444.7 Q990.7,454.0 994.2,463.3"/>
<!-- frame_16_tubering.py -->
<path d="M783.8,843.8 Q787.5,835.0 796.2,828.8 Q806.2,824.5 816.2,828.0 Q831.2,836.2 842.5,855.0 Q851.2,875.0 853.8,904.0"/>
<path class="f2" d="M786.2,846.2 Q791.2,837.5 800.0,832.0 Q808.8,828.8 817.0,831.8 Q830.0,840.0 840.0,857.5 Q848.0,877.5 850.0,904.0"/>
<path d="M790.0,848.8 Q795.0,841.2 802.5,836.8 Q811.2,833.8 818.0,836.5 Q828.8,843.8 837.5,860.0 Q844.5,878.8 846.2,904.0"/>
<path d="M812.5,842.5 Q826.2,850.0 835.0,865.0 Q841.2,882.5 843.0,904.0"/>
<path class="f2" d="M793.0,850.5 Q798.0,843.8 805.0,840.0"/>
<!-- frame_17_collar.py -->
<path d="M409.0,717.5 Q411.9,722.2 416.0,724.5 Q423.6,728.6 432.3,731.5 Q442.8,734.8 453.3,736.2 Q462.7,737.3 469.7,737.3"/>
<path d="M405.5,725.1 Q401.4,728.0 402.6,731.5 Q404.3,735.0 413.7,739.7 Q423.0,743.8 432.3,746.7 Q442.8,749.6 453.3,750.8 L465.0,750.8 Q469.1,749.6 469.7,745.5 L470.3,737.3"/>
<path class="f2" d="M406.7,732.7 Q410.2,736.2 416.0,739.1 Q425.3,743.2 434.7,745.5 Q444.0,748.1 453.3,749.0 L465.0,749.0"/>
<path d="M401.4,729.8 Q399.1,733.3 400.3,736.8 Q402.6,741.4 413.7,746.7 Q423.0,750.8 432.3,753.7 Q442.8,756.6 453.3,757.8 L465.0,757.8 Q468.7,756.9 469.1,753.1 L469.1,747.8"/>
<path d="M395.0,731.5 Q392.1,735.0 393.3,739.1 Q395.6,744.3 411.3,751.3 Q421.8,756.0 432.3,759.5 Q442.8,762.4 453.3,763.6 L467.3,763.6 Q473.2,763.0 474.3,760.7 Q473.8,757.2 469.1,751.3"/>
<path d="M400.8,730.3 Q395.0,730.1 391.5,731.5 Q385.7,734.4 383.3,740.3 Q382.2,745.5 386.8,750.2 Q392.1,754.8 398.5,758.3 Q406.7,763.0 416.0,766.5 Q425.9,770.0 435.8,772.3 Q445.8,774.7 455.7,775.8 Q465.0,776.4 470.8,774.7 Q475.5,772.9 476.9,768.8 Q477.6,764.2 474.3,760.7"/>
<path class="f2" d="M381.6,746.7 Q381.6,750.2 383.9,753.1 Q388.6,757.8 395.0,761.8 Q404.9,767.1 416.0,771.2 Q425.9,774.7 435.8,777.0 Q445.8,779.3 455.7,780.5 Q465.0,780.7 470.8,779.3 Q474.9,777.9 476.3,775.3"/>
<path d="M382.8,743.8 Q378.1,743.8 376.1,747.8 Q374.6,751.9 377.5,756.0 Q383.3,762.4 392.7,767.7 Q402.0,772.9 412.5,777.0 Q424.2,781.1 435.8,784.0 Q447.5,786.3 459.2,786.9 Q467.3,786.9 472.0,785.8 Q476.1,784.0 476.9,780.5 L476.9,772.3"/>
<path d="M375.2,751.3 Q374.6,755.4 376.9,758.9 Q382.2,764.8 391.5,770.0 Q401.4,775.3 412.5,779.3 Q424.2,783.4 435.8,786.3 Q447.5,788.7 459.2,789.3 Q467.9,789.3 473.2,787.5 Q476.7,785.8 477.3,782.3"/>
<path class="f2" d="M376.3,754.8 Q378.7,760.7 391.5,768.8 Q401.4,774.1 412.5,778.2 Q424.2,782.3 435.8,785.2"/>
<path class="f2" d="M419.5,725.1 L413.7,739.1 L411.3,745.5 Q404.3,751.3 399.7,756.0 L397.3,761.8 L392.7,768.8"/>
</g>

<!-- ================= AXIS ================= -->
<g id="axis">
</g>

<!-- ================= PARTS (dark) ================= -->
<g id="parts">
<!-- part 3: ring -->
<g id="p3">
<ellipse class="dw" cx="688.3" cy="260.3" rx="11.6" ry="12.6" transform="rotate(-22 688.3 260.3)" style="stroke-width:1.1"/>
<ellipse class="d" cx="689.4" cy="259.8" rx="11.2" ry="12.3" transform="rotate(-22 689.4 259.8)" style="stroke-width:1"/>
<ellipse class="d" cx="689.3" cy="259.9" rx="9.2" ry="10.2" transform="rotate(-22 689.3 259.9)" style="stroke-width:0.9"/>
</g>
<!-- part 6: washer -->
<g id="p6">
<path class="dw" d="M429.6,346.300 Q436.500,343.400 440.500,345.500 Q441.200,349.500 445,349.600 Q448,349.600 449,348.600 Q452.500,353.500 451,362 Q449.500,370.500 442.500,375 Q434.500,378.600 428,374.500 Q421,369.500 421,360.500 Q421.500,350.500 429.600,346.300 Z"/>
<ellipse class="d" cx="436.3" cy="360.6" rx="8" ry="8.900" transform="rotate(-22 436.3 360.6)"/>
<path class="d" d="M423.500,355.500 l1.800,0.500 M431,373.800 l0.600,-1.800 M447.500,366 l-1.800,-0.500 M426,364.500 l1.800,-0.300" style="stroke-width:1.4"/>
</g>
<!-- part 7: U clip -->
<g id="p7">
<path class="d" d="M398.700,379.200 L402.600,361 Q403.400,357.800 407,358 Q416.500,359.500 419,367.500 L411.300,384.700" style="stroke-width:2.2;stroke:#2a2a2a"/>
</g>
<!-- part 9: spring clip -->
<g id="p9">
<path class="d" d="M295.800,410.800 L319.500,390.500 Q324.500,386.300 329.500,389 Q337.500,396 337.800,409.500 Q338,414 334.500,415.800 Q330.500,417.200 329.200,419.500 Q323,428.300 313,428 Q305,427.500 300.200,423 Q298.300,421.300 296.700,422.500" style="stroke-width:2.4;stroke:#3a3a3a"/>
<path d="M295.800,410.800 L319.500,390.500 Q324.500,386.300 329.500,389 Q337.500,396 337.800,409.500 Q338,414 334.500,415.800 Q330.500,417.200 329.200,419.500 Q323,428.300 313,428 Q305,427.500 300.200,423 Q298.300,421.300 296.700,422.500" fill="none" stroke="#bbb" stroke-width="0.7"/>
</g>
<path class="dw" style="stroke-width:1.4" d="M633.1,249.8 Q641.8,247.0 651.0,246.5 L652.4,246.8 L653.8,248.8 L660.2,251.1 L661.3,252.7 Q669.3,258.0 673.9,266.3 Q677.6,274.5 676.7,283.7 Q675.3,291.0 668.4,298.3 L667.0,297.0 L663.8,299.7 L662.7,301.8 Q654.7,307.5 645.5,307.8 Q632.7,306.6 623.5,294.7 L620.0,289.4 L619.7,283.9 L621.3,282.8 L620.9,276.8 L618.9,276.3 Q619.4,263.5 626.3,254.8 Q629.5,251.4 633.1,249.8 Z"/>
<path class="g" d="M620.8,289.2 L658.3,304.8 M623.5,288.3 L660.2,303.4"/>
<path class="g" d="M636.3,292.8 L636.3,296.7 L639.1,297.6 L639.1,293.9 M641.8,294.7 L641.8,298.5 L643.9,299.3 L643.9,295.6"/>
<path class="g" d="M630.8,267.6 Q634.5,262.1 640.0,259.1 Q647.3,256.6 654.7,258.9"/>
<ellipse class="dw" style="stroke-width:1.4" cx="647.3" cy="276.6" rx="18.3" ry="19.1" transform="rotate(-20 647.3 276.6)"/>
<path class="d" style="stroke-width:1.2" d="M639.1,265.3 L655.6,261.2 M654.7,281.8 L664.3,280.0 M651.0,287.3 L663.8,281.4"/>
<path class="g" d="M635.4,267.6 L643.7,265.2 M645.5,291.0 L660.2,287.3 M647.3,292.8 L659.3,290.1"/>
<path class="d" style="stroke-width:1" d="M643.7,258.0 Q654.7,258.9 661.1,266.3 Q665.7,273.6 663.8,281.4"/>
<path class="d" style="stroke-width:1.1" d="M643.7,269.5 Q646.0,267.6 648.7,268.3 L649.6,270.1 L651.5,270.1 Q653.9,272.7 653.9,277.3 L652.1,277.7 L652.4,280.0 L653.6,280.5 Q652.4,285.0 649.6,286.2 Q646.9,286.6 645.0,284.1 L646.2,282.8 L645.0,281.1 L643.7,281.4 Q642.3,276.8 643.7,269.5 Z"/>
<path class="d" style="stroke-width:1.1" d="M634.0,269.5 L636.3,271.0 L638.9,269.0 M631.3,283.2 L632.9,283.7 L633.6,281.8 M643.7,289.2 L646.0,287.8 L648.4,289.6"/>
<path class="d" style="stroke-width:2.2" d="M631.3,279.5 L641.8,276.3 M634.0,285.0 L643.7,281.4"/>
<ellipse class="dw" style="stroke-width:2.4" cx="726.3" cy="246.4" rx="8.1" ry="12.0" transform="rotate(-22 726.3 246.4)"/>
<ellipse class="d" style="stroke-width:1.3" cx="725.2" cy="246.8" rx="7.8" ry="11.7" transform="rotate(-22 725.2 246.8)"/>
<path class="g" d="M730.6,239.1 Q733.6,245.1 732.1,252.7 M731.8,238.4 Q735.0,245.1 733.3,253.0"/>
<path class="dw" style="stroke:none" d="M711.8,240.3 L720.5,236.0 Q727.6,239.1 729.1,248.2 Q728.8,254.2 726.1,256.8 L718.6,259.4 Z"/>
<path class="d" d="M711.8,240.3 L720.5,236.0 M719.0,259.4 L726.1,256.6"/>
<path class="g" d="M712.6,242.1 L721.6,239.1 M721.6,250.0 L728.4,247.8"/>
<path class="d" style="stroke-width:2" d="M713.3,239.1 Q719.3,242.1 720.1,248.9 Q719.9,254.2 718.0,258.1"/>
<ellipse class="dw" cx="709.9" cy="251.3" rx="9.2" ry="10.5" transform="rotate(-22 709.9 251.3)"/>
<path class="g" d="M705.4,245.9 L707.7,250.3 L712.6,248.2 M707.7,250.3 L706.9,251.9 M701.3,256.4 L708.8,253.0 L709.7,257.9 M708.8,253.0 L714.8,250.3 M712.6,248.2 L710.3,244.4"/>
<path class="d" style="stroke-width:0.9" d="M705.4,245.9 L707.7,250.3 M701.3,256.4 L708.8,253.3"/>
<path class="dw" style="stroke-width:1.1;fill:#e8e8e8" d="M735.1,239.9 L736.3,238.0 L738.2,237.6 L738.9,236.1 L740.6,236.0 L741.2,234.8 L742.7,234.8 L743.4,233.5 L745.1,233.5 L746.1,232.4 L749.4,231.2 L752.5,238.4 L750.2,239.1 L739.7,244.4 L738.2,245.5 L736.3,244.0 Z"/>
<path class="d" style="stroke-width:1.4;stroke:#444" d="M737.4,241.0 L750.2,235.4 M738.2,242.9 L750.9,237.2"/>
<path class="g" d="M737.0,239.5 L749.4,233.9"/>
<ellipse class="dw" style="stroke-width:1" cx="751.9" cy="231.5" rx="2.3" ry="2.4"/>
<path class="dw" style="stroke-width:1.4" d="M750.9,227.1 Q752.5,222.6 755.5,219.2 Q758.8,214.7 762.6,212.3 Q766.7,210.2 769.4,212.0 Q771.6,214.3 770.5,218.8 Q769.4,224.1 767.5,227.8 Q765.2,233.1 764.9,236.1 Q765.2,240.6 763.4,245.1 Q761.5,249.7 757.7,251.5 Q754.0,252.7 750.9,251.5 Q747.9,249.7 746.6,245.9 Q746.1,243.3 747.9,242.1 L752.5,239.1 L754.7,231.6 Z"/>
<path class="g" d="M767.5,213.5 Q761.5,218.8 757.7,226.3 Q754.0,236.1 752.5,248.2 M769.0,216.9 Q763.0,222.6 760.0,229.3 Q756.6,237.6 755.5,249.3"/>
<path class="d" style="stroke-width:0.9" d="M761.5,216.2 L765.2,218.8 M754.7,230.1 L756.2,228.6"/>
<path class="d" style="stroke-width:2" d="M760.4,246.7 Q762.6,244.4 763.4,241.0"/>
<path class="d" style="stroke-width:2" d="M758.1,215.4 Q760.0,213.5 762.2,212.4"/>
<path class="dw" style="stroke:none" d="M162.5,460.0 Q161.7,446.7 171.7,439.2 Q181.7,433.0 193.3,434.7 Q206.7,437.5 212.5,448.3 Q216.7,458.3 211.7,470.0 L209.2,472.5 L195.0,453.3 L165.0,468.3 Z"/>
<path class="d" d="M162.5,460.0 Q161.7,446.7 171.7,439.2 Q181.7,433.0 193.3,434.7 Q206.7,437.5 212.5,448.3 Q216.7,458.3 211.7,470.0 L209.2,472.5"/>
<path class="g" d="M165.0,458.3 Q165.0,447.5 174.2,440.8 Q183.3,435.8 193.3,437.5 Q204.2,440.0 208.7,449.2 Q211.7,457.5 208.3,466.7"/>
<path class="g" d="M168.3,456.7 Q170.0,446.7 178.3,442.0 Q186.7,439.2 195.0,441.7 Q202.5,445.8 204.2,454.2 L205.0,463.3"/>
<path class="d" style="stroke-width:1.6" d="M165.0,464.2 Q164.7,451.7 173.3,445.8 Q182.5,440.8 190.8,445.8 Q193.7,448.3 195.3,453.0"/>
<path class="dw" style="fill:none" d="M165.0,468.3 L179.2,498.3 L214.2,482.5 L209.2,472.5 M195.0,453.3 L209.2,472.5"/>
<path class="dw" style="stroke:none" d="M165.0,468.3 L179.2,498.3 L214.2,482.5 L195.0,453.3 Z"/>
<path class="d" d="M162.8,461.7 Q163.3,465.8 165.0,468.3 L179.2,498.3 L214.2,482.5 L209.2,472.5"/>
<path class="g" d="M165.8,468.0 L195.0,453.3 M195.0,453.3 L209.7,483.3 M197.5,452.0 L211.7,482.0"/>
<path class="d" style="stroke-width:1" d="M195.0,453.3 L198.0,451.7 L214.2,482.5"/>
<path class="g" d="M167.5,470.0 L180.8,496.7"/>
<path class="g" d="M206.7,450.8 L212.5,448.7"/>
<ellipse class="dw" style="stroke-width:1.4" cx="255.7" cy="431.7" rx="24.0" ry="22.5"/>
<path class="d" style="stroke-width:2.2" d="M271.2,415.8 Q277.6,422.6 279.1,431.5 Q279.4,435.7 278.1,439.9"/>
<path class="d" style="stroke-width:1.1" d="M248.6,417.3 Q239.7,422.6 237.6,430.5 Q236.6,438.9 240.8,446.2 Q242.9,449.4 245.5,451.0 M256.5,414.7 Q264.9,415.8 270.2,422.6 Q274.9,430.5 273.6,438.9 Q272.8,443.1 271.2,445.7"/>
<path class="g" d="M258.6,418.4 Q265.5,422.6 268.1,430.5 Q269.7,435.7 268.9,440.5"/>
<path class="g" d="M240.8,431.5 Q240.8,439.9 246.0,446.2"/>
<path class="dw" style="stroke:none" d="M249.2,411.0 L252.9,411.6 L271.8,447.8 L263.9,451.5 Z"/>
<path class="d" style="stroke-width:1.5" d="M249.2,411.0 L263.9,451.5 M252.9,411.6 L271.8,447.8 M249.2,411.0 L252.9,411.6"/>
<path class="g" d="M250.8,412.6 L265.5,451.0 M255.5,414.7 L271.2,447.3 M259.7,420.5 L271.2,444.7"/>
<path class="d" style="stroke-width:1.2" d="M246.5,425.8 L251.3,424.2 M246.5,425.8 L256.5,453.6 M244.4,434.2 L248.6,432.6 M244.4,434.2 L252.5,454.7 M245.0,447.8 L248.6,446.8 L251.1,455.5 M245.0,447.8 L247.6,456.8"/>
<path class="g" d="M249.7,436.3 L256.5,453.6 M251.3,431.5 L260.2,452.6 M248.3,435.2 L255.0,454.1"/>
<path class="dw" style="stroke-width:1.4" d="M245.0,459.9 L274.4,447.8 L279.7,462.5 L251.3,475.2 Z"/>
<path class="dw" style="stroke-width:1.4" d="M255.5,473.6 L261.8,488.3 L287.5,476.7 L279.7,462.5"/>
<path class="d" style="stroke-width:1.2" d="M261.8,470.4 L265.5,479.9 L277.6,475.2 M265.5,479.9 L266.5,483.0 M275.5,464.6 L279.7,473.6"/>
<path class="d" style="stroke-width:1" d="M268.1,479.4 L269.1,482.0 M271.2,478.3 L272.3,480.9 M274.4,477.3 L275.5,479.6 M277.0,475.9 L278.1,478.3"/>
<path class="g" d="M261.8,485.3 L287.0,475.3"/>
<path style="fill:none;stroke:#9a9a9a;stroke-width:1.6" d="M270.4,451.5 L275.7,462.2"/>
<path class="dw" style="stroke-width:1.4" d="M356.5,399.2 Q353.7,396.9 352.3,391.8 Q350.7,386.3 352.8,380.8 Q354.6,376.7 357.8,374.4 Q361.0,372.6 364.7,371.7 L374.3,368.9 L377.1,369.4 Q381.2,370.3 384.4,372.6 Q388.1,375.3 389.9,379.0 Q391.9,382.7 391.8,386.3 Q391.3,390.5 389.0,393.7 Q386.7,396.6 383.5,398.3 Q380.3,400.3 376.2,400.5 Q371.6,400.3 367.9,398.7 L366.5,397.8 Q361.5,399.2 356.5,399.2 Z"/>
<path class="g" d="M364.7,371.7 Q369.8,372.6 372.5,375.3 Q375.7,378.5 376.2,382.7 Q376.6,387.3 375.3,390.9 Q374.2,393.7 372.5,395.5 Q369.8,397.5 366.5,398.1"/>
<path class="g" d="M376.2,382.7 L380.8,379.0 L384.4,378.1 Q387.4,379.9 389.0,383.1 M380.8,379.0 L377.1,389.1 L375.3,390.9 M377.1,389.1 Q383.5,389.1 389.0,391.1 M372.5,395.5 L377.1,399.2 M374.3,369.1 L369.0,373.3"/>
<path class="d" style="stroke-width:1.2" d="M364.7,386.3 L367.0,385.0 Q368.7,385.9 369.0,387.4 Q369.9,389.1 369.0,390.2 L367.0,391.4 L365.6,393.2 Q363.8,393.7 362.9,392.6 Q362.4,390.9 363.5,390.0 L364.8,389.1 Z"/>
<path class="ax" style="stroke-dashoffset:0" d="M217.0,449.3 L248.5,436.3"/>
<path class="ax" style="stroke-dashoffset:0" d="M280.0,423.3 L481.0,340.5"/>
<path class="ax" style="stroke-dashoffset:0" d="M604.5,289.3 L650.0,273.1"/>
<path class="ax" style="stroke-dashoffset:4" d="M675.5,264.0 L735.0,242.7"/>
</g>

<!-- ================= LEADERS + LABELS ================= -->
<g id="labels">
<!-- group 1 bracket -->
<path class="l" d="M633.3,89.5 V81.2 H720.7 V89.5 M677,74.7 V81.2"/>
<circle cx="677.5" cy="92.2" r="5.3" fill="#000"/>
<path class="l" d="M644.3,107.2 V172.5 L681,249"/>
<path class="l" d="M677,97 V144.2 L709.5,240.5"/>
<path class="l" d="M709.5,108.3 V140 L757,214.5"/>
<text transform="translate(675.6,71.7) scale(1.06,1.08)">1</text>
<text transform="translate(643.4,103) scale(1.06,1.08)">3</text>
<text transform="translate(709.2,106.2) scale(1.06,1.08)">2</text>
<!-- 4 -->
<path class="l" d="M590.4,188.6 L632.6,248.7"/>
<text transform="translate(585.2,186) scale(1.06,1.08)">4</text>
<!-- group 5 bracket -->
<path class="l" d="M304.5,219.2 V206.7 H410.5 V219.2 M357.2,199.5 V206.7"/>
<circle cx="315.8" cy="218.3" r="5.3" fill="#000"/>
<path class="l" d="M315.5,223 V236.7 L364.5,372"/>
<path class="l" d="M358.7,237.2 V261.2 L404,357"/>
<path class="l" d="M398.8,237.2 V261.2 L429.5,345.5"/>
<text transform="translate(357.6,194.8) scale(1.06,1.08)">5</text>
<text transform="translate(360.8,232) scale(1.06,1.08)">7</text>
<text transform="translate(398.2,232.2) scale(1.06,1.08)">6</text>
<!-- 8 9 10 -->
<path class="l" d="M196.3,306.8 L242,413"/>
<text transform="translate(191.2,303.6) scale(1.06,1.08)">8</text>
<path class="l" d="M280,316.3 L316.3,391.8"/>
<text transform="translate(276.5,310.3) scale(1.06,1.08)">9</text>
<path class="l" d="M87,440 L161.3,459.3"/>
<text transform="translate(71.5,445.6) scale(1.06,1.08)">10</text>
<!--LABELS-->
</g>
</svg>
</body>
</html>
